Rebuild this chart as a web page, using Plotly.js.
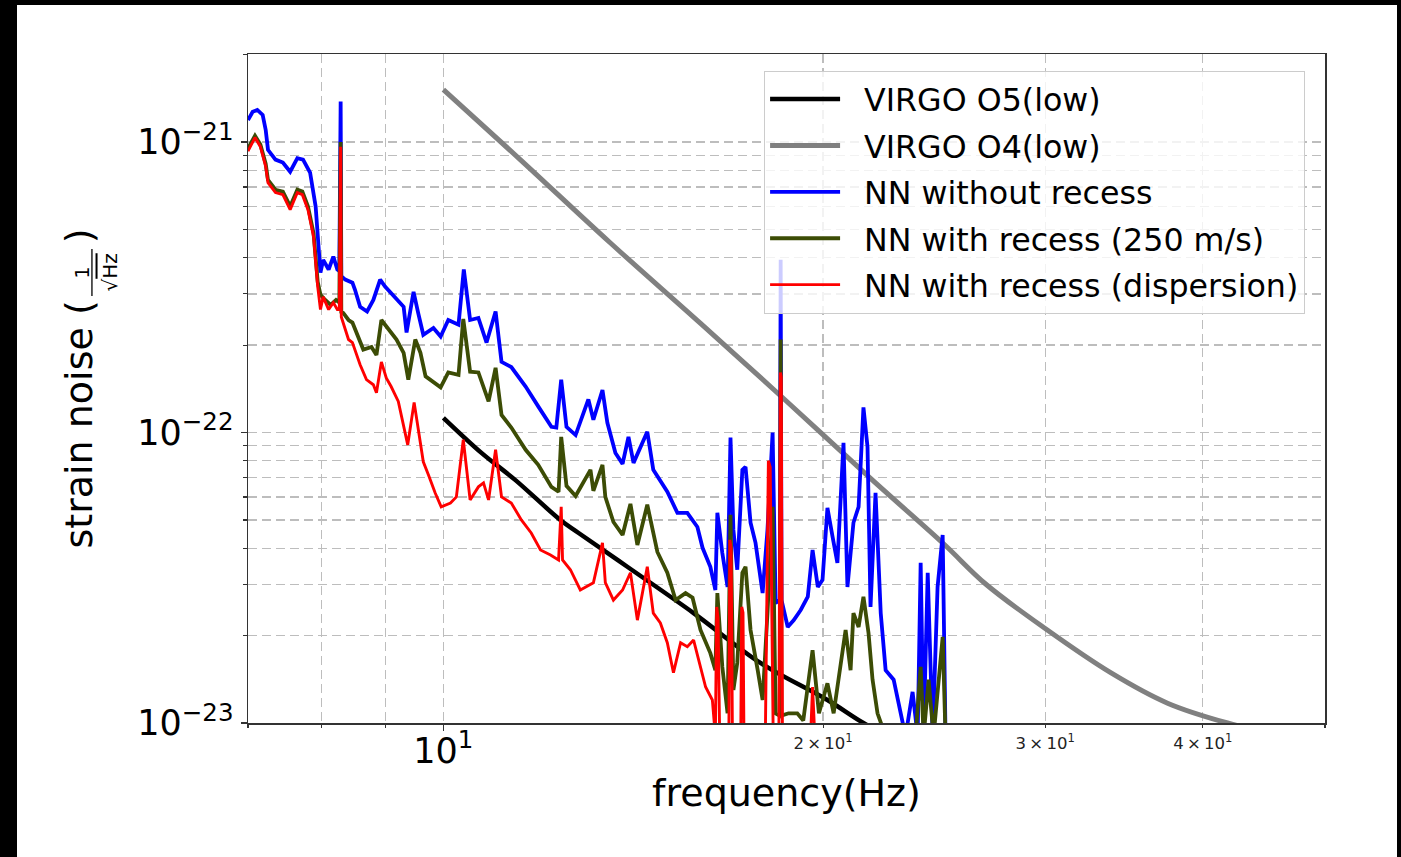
<!DOCTYPE html>
<html>
<head>
<meta charset="utf-8">
<script src="https://cdn.plot.ly/plotly-3.0.1.min.js"></script>
<style>
  html, body { margin:0; padding:0; background:#000; width:1401px; height:857px; overflow:hidden; }
  #chart { position:absolute; left:17px; top:5px; width:1380px; height:852px; background:#fff; }
</style>
</head>
<body>
<div id="chart"></div>
<script>
// ---------------- data (frequency in Hz, strain noise in 1/sqrt(Hz)) ----------------
const o5Freq = [10.0, 10.72, 11.40, 12.38, 12.80, 13.99, 15.79, 17.84, 20.16, 21.53, 23.0];
const o5Val  = [1.124e-22, 8.51e-23, 6.87e-23, 5.00e-23, 4.51e-23, 3.45e-23, 2.39e-23, 1.61e-23, 1.20e-23, 1.0e-23, 8.6e-24];

const o4Freq = [10.0, 11.5, 13.56, 16.0, 18.57, 21.81, 24.92, 26.91, 30.02, 33.81, 37.51, 41.85, 46.0];
const o4Val  = [1.515e-21, 8.72e-22, 4.5e-22, 2.37e-22, 1.32e-22, 6.95e-23, 4.14e-23, 3.01e-23, 2.11e-23, 1.49e-23, 1.17e-23, 1.0e-23, 9.1e-24];

const nnFreq = [7.00,7.06,7.12,7.19,7.23,7.26,7.36,7.46,7.56,7.66,7.74,7.84,7.92,7.96,7.99,8.03,8.11,8.18,8.24,8.27,
  8.29,8.30,8.36,8.47,8.51,8.59,8.70,8.80,8.91,8.99,9.08,9.19,9.30,9.35,9.41,9.47,9.55,9.64,9.82,9.95,
  10.09,10.28,10.38,10.50,10.66,10.82,11.00,11.12,11.32,11.62,11.89,12.18,12.29,12.40,12.52,12.73,13.03,13.15,13.37,13.49,
  13.69,13.87,14.02,14.15,14.51,14.67,15.05,15.33,15.61,15.90,16.05,16.28,16.43,16.49,16.64,16.80,16.89,16.98,17.10,17.26,
  17.36,17.52,17.68,17.91,18.07,18.24,18.34,18.48,18.51,18.54,18.75,18.96,19.20,19.45,19.62,19.81,19.98,20.16,20.35,20.53,
  20.76,20.91,21.14,21.34,21.53,21.69,21.81,22.01,22.22,22.42,22.75,23.04,23.25,23.55,23.77,23.90,24.03,24.21,24.43,24.65,
  24.88,25.01];
const nnVal = [1.19e-21,1.27e-21,1.29e-21,1.24e-21,1.10e-21,9.4e-22,8.7e-22,8.5e-22,7.9e-22,8.8e-22,8.7e-22,7.85e-22,6.0e-22,4.16e-22,3.55e-22,3.93e-22,3.64e-22,4.03e-22,3.64e-22,3.6e-22,
  1.38e-21,3.45e-22,3.36e-22,3.28e-22,3.10e-22,2.71e-22,2.61e-22,2.86e-22,3.36e-22,3.18e-22,3.03e-22,2.86e-22,2.71e-22,2.21e-22,2.65e-22,3.05e-22,2.58e-22,2.17e-22,2.29e-22,2.14e-22,
  2.44e-22,2.35e-22,3.64e-22,2.44e-22,2.48e-22,2.04e-22,2.61e-22,1.75e-22,1.68e-22,1.44e-22,1.23e-22,1.046e-22,1.04e-22,1.52e-22,1.046e-22,9.8e-23,1.30e-22,1.106e-22,1.40e-22,1.08e-22,
  8.5e-23,7.8e-23,9.66e-23,7.86e-23,1.006e-22,7.44e-23,6.25e-23,5.29e-23,5.29e-23,4.73e-23,4.01e-23,3.45e-23,2.87e-23,5.29e-23,3.85e-23,2.94e-23,9.6e-23,4.62e-23,3.37e-23,7.44e-23,
  7.62e-23,4.89e-23,4.17e-23,2.80e-23,4.62e-23,1.0e-22,2.59e-23,2.65e-23,3.93e-22,2.65e-23,2.14e-23,2.26e-23,2.45e-23,2.72e-23,3.94e-23,2.94e-23,3.11e-23,5.50e-23,4.37e-23,3.56e-23,
  9.21e-23,2.94e-23,4.89e-23,5.55e-23,1.22e-22,8.93e-23,2.51e-23,6.20e-23,2.39e-23,1.52e-23,1.41e-23,1.08e-23,9e-24,1.28e-23,9e-24,3.56e-23,9e-24,3.29e-23,9e-24,2.94e-23,
  4.44e-23,9e-24];

const rec250Freq = [7.00,7.03,7.09,7.16,7.23,7.26,7.36,7.46,7.56,7.66,7.73,7.81,7.89,7.95,7.99,8.06,8.14,8.22,8.27,8.29,
  8.30,8.33,8.41,8.47,8.64,8.77,8.85,8.93,9.05,9.18,9.30,9.38,9.50,9.59,9.68,9.85,9.95,10.09,10.28,10.37,
  10.50,10.66,10.86,11.00,11.12,11.32,11.62,11.89,12.18,12.34,12.40,12.52,12.73,13.08,13.15,13.37,13.44,13.64,13.87,14.07,
  14.25,14.51,14.78,15.05,15.28,15.56,15.76,15.99,16.28,16.43,16.49,16.64,16.80,16.89,16.98,17.10,17.26,17.36,17.52,17.75,
  17.91,18.07,18.24,18.34,18.48,18.51,18.54,18.78,19.08,19.29,19.62,19.85,20.16,20.39,20.65,20.84,21.03,21.14,21.34,21.53,
  21.73,21.89,22.09,22.42,23.68,23.90,24.03,24.25,24.47,24.88,25.01];
const rec250Val = [9.5e-22,9.8e-22,1.05e-21,9.8e-22,8.4e-22,7.4e-22,6.85e-22,6.75e-22,6.0e-22,6.85e-22,6.75e-22,6.0e-22,4.85e-22,3.3e-22,2.98e-22,2.86e-22,2.75e-22,2.86e-22,2.80e-22,1.0e-21,
  2.6e-22,2.58e-22,2.44e-22,2.39e-22,1.93e-22,1.97e-22,1.85e-22,2.44e-22,2.26e-22,2.09e-22,1.88e-22,1.52e-22,2.09e-22,1.88e-22,1.56e-22,1.48e-22,1.43e-22,1.61e-22,1.58e-22,2.46e-22,
  1.62e-22,1.61e-22,1.28e-22,1.67e-22,1.15e-22,1.04e-22,8.72e-23,7.74e-23,6.50e-23,6.25e-23,9.66e-23,6.55e-23,6.05e-23,7.44e-23,6.30e-23,7.74e-23,6.00e-23,4.92e-23,4.44e-23,5.68e-23,
  4.10e-23,5.64e-23,3.88e-23,3.29e-23,2.65e-23,2.80e-23,2.70e-23,2.09e-23,1.74e-23,1.52e-23,2.80e-23,1.56e-23,1.08e-23,5.21e-23,1.30e-23,1.61e-23,3.29e-23,3.45e-23,2.09e-23,1.52e-23,
  1.20e-23,2.39e-23,5.55e-23,1.08e-23,1.06e-23,2.09e-22,1.06e-23,1.08e-23,1.08e-23,1.02e-23,1.78e-23,1.08e-23,1.37e-23,1.08e-23,1.56e-23,2.09e-23,1.52e-23,2.39e-23,2.14e-23,2.72e-23,
  2.04e-23,1.41e-23,1.08e-23,9e-24,9e-24,1.56e-23,9e-24,1.41e-23,9e-24,1.98e-23,9e-24];

const dispFreq = [7.00,7.03,7.09,7.16,7.23,7.26,7.36,7.46,7.56,7.66,7.73,7.81,7.89,7.95,7.99,8.03,8.11,8.18,8.24,8.27,
  8.29,8.30,8.33,8.41,8.47,8.59,8.69,8.80,8.85,8.93,9.01,9.09,9.21,9.33,9.37,9.48,9.55,9.64,9.73,9.85,
  9.96,10.13,10.24,10.37,10.50,10.66,10.76,10.86,11.00,11.12,11.32,11.53,11.74,11.94,12.16,12.34,12.40,12.43,12.61,12.84,
  13.15,13.37,13.44,13.64,13.87,14.07,14.25,14.51,14.67,14.86,15.05,15.22,15.42,15.61,15.79,15.93,16.14,16.34,16.43,16.47,
  16.51,16.56,16.84,16.87,16.91,16.95,17.21,17.24,17.28,17.31,18.00,18.10,18.16,18.26,18.45,18.50,18.53,18.57,19.55,19.62,
  19.70,25.0];
const dispVal = [9.3e-22,9.64e-22,1.036e-21,9.64e-22,8.23e-22,7.25e-22,6.70e-22,6.59e-22,5.85e-22,6.70e-22,6.59e-22,5.85e-22,4.72e-22,3.18e-22,2.65e-22,2.93e-22,2.65e-22,2.80e-22,2.65e-22,2.65e-22,
  9.64e-22,2.5e-22,2.39e-22,2.09e-22,2.04e-22,1.71e-22,1.52e-22,1.46e-22,1.37e-22,1.75e-22,1.54e-22,1.44e-22,1.28e-22,1.006e-22,9.07e-23,1.27e-22,1.04e-22,7.93e-23,7.15e-23,6.20e-23,
  5.55e-23,5.72e-23,6.00e-23,9.44e-23,5.86e-23,6.50e-23,6.71e-23,5.86e-23,8.72e-23,6.00e-23,5.72e-23,5.00e-23,4.51e-23,3.94e-23,3.79e-23,3.64e-23,5.55e-23,3.64e-23,3.37e-23,2.87e-23,
  3.04e-23,4.17e-23,3.04e-23,2.65e-23,2.87e-23,3.29e-23,2.26e-23,3.45e-23,2.39e-23,2.21e-23,1.89e-23,1.49e-23,1.89e-23,1.83e-23,1.93e-23,1.65e-23,1.33e-23,1.20e-23,9e-24,2.51e-23,
  2.3e-23,9e-24,9e-24,4.27e-23,4.0e-23,9e-24,9e-24,2.51e-23,2.4e-23,9e-24,9e-24,8.0e-23,7.6e-23,9e-24,9e-24,1.61e-22,1.55e-22,9e-24,9e-24,1.33e-23,
  9e-24,9e-24];

const seriesNames = ['VIRGO O5(low)', 'VIRGO O4(low)', 'NN without recess', 'NN with recess (250 m/s)', 'NN with recess (dispersion)'];

const xMajorTicks = [10];
const xMajorText  = ['10<sup>1</sup>'];
const xMinorTicks = [7, 8, 9, 20, 30, 40, 50];
const xMinorLabelTicks = [20, 30, 40];
const xMinorLabelText  = ['2\u2009×\u200910<sup>1</sup>', '3\u2009×\u200910<sup>1</sup>', '4\u2009×\u200910<sup>1</sup>'];
const yMajorTicks = [1e-23, 1e-22, 1e-21];
const yMajorText  = ['10<sup>\u221223</sup>', '10<sup>\u221222</sup>', '10<sup>\u221221</sup>'];
const yMinorTicks = [2e-23,3e-23,4e-23,5e-23,6e-23,7e-23,8e-23,9e-23,2e-22,3e-22,4e-22,5e-22,6e-22,7e-22,8e-22,9e-22,2e-21];

// legend text gap (matplotlib puts a wider gap between handle and label)
const legendPad = '\u2002\u200A';

// ---------------- traces ----------------
const traces = [
  {x:o5Freq, y:o5Val, name:legendPad + seriesNames[0], legendgroup:'a', mode:'lines', line:{color:'#000000', width:4.5, shape:'spline'}},
  {x:o4Freq, y:o4Val, name:legendPad + seriesNames[1], legendgroup:'b', mode:'lines', line:{color:'#808080', width:5, shape:'spline'}},
  {x:nnFreq, y:nnVal, name:legendPad + seriesNames[2], legendgroup:'c', mode:'lines', line:{color:'#0000ff', width:3.8}},
  {x:rec250Freq, y:rec250Val, name:legendPad + seriesNames[3], legendgroup:'d', mode:'lines', line:{color:'#3c4c05', width:3.8}},
  // top-most series drawn on the overlaid x axis that carries the "n × 10^1" labels
  {x:dispFreq, y:dispVal, name:legendPad + seriesNames[4], legendgroup:'e', mode:'lines', xaxis:'x2', yaxis:'y', line:{color:'#ff0000', width:2.9}}
];

const xRange = [Math.log10(7), Math.log10(50)];
const gridCol = '#bdbdbd';
const gridDash = '9px,5px';
const frameCol = '#333333';

const layout = {
  width:1380, height:852,
  margin:{l:231, r:72, t:49, b:134, pad:0},
  paper_bgcolor:'#ffffff', plot_bgcolor:'#ffffff',
  font:{family:'DejaVu Sans, sans-serif', color:'#000000'},
  showlegend:true,
  legend:{x:0.479, y:0.975, xanchor:'left', yanchor:'top',
    bgcolor:'rgba(255,255,255,0.8)', bordercolor:'#cccccc', borderwidth:1.2,
    font:{size:31.7, family:'DejaVu Sans, sans-serif', color:'#000'}, itemwidth:70, tracegroupgap:2.2},
  xaxis:{type:'log', range:xRange, tickmode:'array', tickvals:xMajorTicks, ticktext:xMajorText,
    ticks:'outside', ticklen:6, tickwidth:1.3, tickcolor:frameCol, tickfont:{size:35}, ticklabelstandoff:-10,
    showline:true, mirror:true, linecolor:frameCol, linewidth:1.5, zeroline:false,
    showgrid:true, gridcolor:gridCol, gridwidth:1.2, griddash:gridDash,
    minor:{tickmode:'array', tickvals:xMinorTicks, ticks:'outside', ticklen:3.5, tickwidth:1.1, tickcolor:frameCol,
      showgrid:true, gridcolor:gridCol, gridwidth:1.2, griddash:gridDash},
    title:{text:'frequency(Hz)', font:{size:38}, standoff:10}},
  xaxis2:{type:'log', range:xRange, overlaying:'x', anchor:'y', side:'bottom',
    tickmode:'array', tickvals:xMinorLabelTicks, ticktext:xMinorLabelText, tickfont:{size:16.5, color:'#222'},
    ticks:'', showgrid:false, showline:false, zeroline:false, ticklabelstandoff:8},
  yaxis:{type:'log', range:[-23, -20.697], tickmode:'array', tickvals:yMajorTicks, ticktext:yMajorText,
    ticks:'outside', ticklen:6, tickwidth:1.3, tickcolor:frameCol, tickfont:{size:35},
    showline:true, mirror:true, linecolor:frameCol, linewidth:1.5, zeroline:false,
    showgrid:true, gridcolor:gridCol, gridwidth:1.2, griddash:gridDash,
    minor:{tickmode:'array', tickvals:yMinorTicks, ticks:'outside', ticklen:3.5, tickwidth:1.1, tickcolor:frameCol,
      showgrid:true, gridcolor:gridCol, gridwidth:1.2, griddash:gridDash},
    title:{text:'strain noise (\u2003\u2002)', font:{size:38}, standoff:33}},
  annotations:[
    {xref:'paper', yref:'paper', x:-0.1541, y:0.6734, text:'1', showarrow:false, textangle:-90,
      font:{size:19}, xanchor:'center', yanchor:'middle'},
    {xref:'paper', yref:'paper', x:-0.1281, y:0.6734, text:'\u221a<span style="text-decoration:overline">Hz</span>', showarrow:false, textangle:-90,
      font:{size:20, family:'DejaVu Sans, sans-serif'}, xanchor:'center', yanchor:'middle'}
  ],
  shapes:[
    {type:'line', xref:'paper', yref:'paper', x0:-0.1449, x1:-0.1449, y0:0.6383, y1:0.7085,
      line:{color:'#000', width:1.3}}
  ]
};

Plotly.newPlot('chart', traces, layout, {displayModeBar:false, staticPlot:true});
</script>
</body>
</html>
